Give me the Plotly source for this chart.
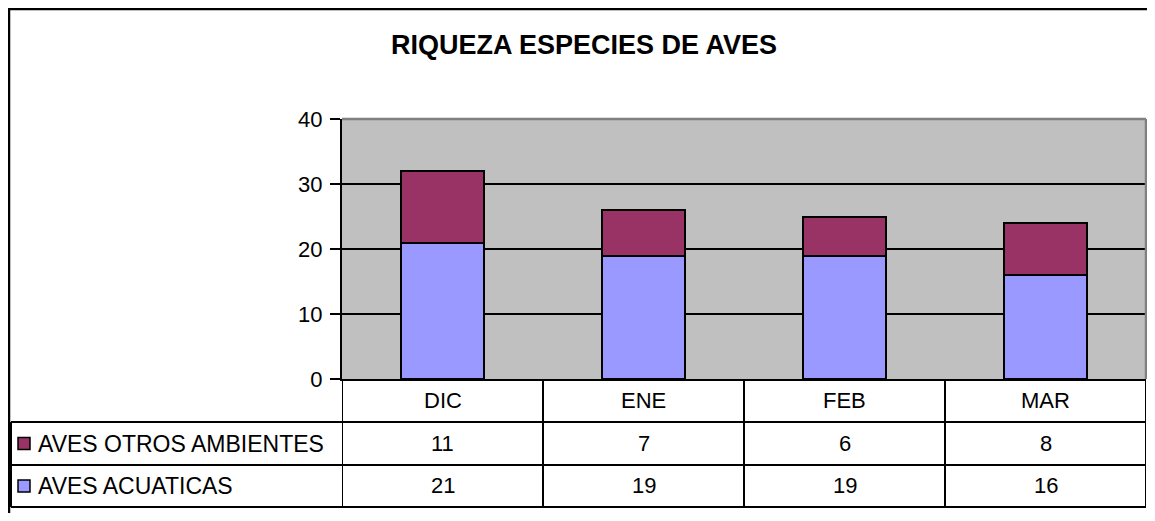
import plotly.graph_objects as go

# ---- data ----
categories = ["DIC", "ENE", "FEB", "MAR"]
aves_acuaticas = [21, 19, 19, 16]
aves_otros = [11, 7, 6, 8]
name_acuaticas = "AVES ACUATICAS"
name_otros = "AVES OTROS AMBIENTES"
y_ticks = [0, 10, 20, 30, 40]
chart_title = "RIQUEZA ESPECIES DE AVES"

# ---- style / layout constants ----
FONT = "Liberation Sans, Arial, sans-serif"
OFF = 8  # page body margin of the html page
W_FIG, H_FIG = 1155 - 2 * OFF, 521 - 2 * OFF
# plot area in screen pixels
PL, PR, PT, PB = 342, 1146, 119, 379
L = PL - OFF
R = W_FIG - (PR - OFF)
T = PT - OFF
B = H_FIG - (PB - OFF)
PW = W_FIG - L - R
PH = H_FIG - T - B
C_OTROS = "#993366"
C_ACU = "#9999FF"
FS = 22


def px(sx):
    """screen x -> paper x"""
    return (sx - PL) / PW


def py(sy):
    """screen y -> paper y"""
    return (PB - sy) / PH


fig = go.Figure()
fig.add_bar(x=categories, y=aves_acuaticas, name=name_acuaticas, width=0.41,
            marker=dict(color=C_ACU, line=dict(color="black", width=2)))
fig.add_bar(x=categories, y=aves_otros, name=name_otros, width=0.41,
            marker=dict(color=C_OTROS, line=dict(color="black", width=2)))

shapes = []
annotations = []

# outer chart border: only left and top edges are visible
shapes.append(dict(type="line", xref="paper", yref="paper",
                   x0=px(9), x1=px(9), y0=py(8), y1=py(530),
                   line=dict(color="black", width=2.5), layer="above"))
shapes.append(dict(type="line", xref="paper", yref="paper",
                   x0=px(8), x1=px(1160), y0=py(9), y1=py(9),
                   line=dict(color="black", width=2.5), layer="above"))
# plot area top and right (gray)
shapes.append(dict(type="line", xref="paper", yref="paper", x0=0, x1=1, y0=1, y1=1,
                   line=dict(color="#808080", width=2.5), layer="above"))
shapes.append(dict(type="line", xref="paper", yref="paper", x0=1, x1=1, y0=0, y1=1,
                   line=dict(color="#808080", width=2.5), layer="above"))

# data table
n = len(categories)
row_header = (379, 422)
row_otros = (422, 465)
row_acu = (465, 507)
tbl_left = 11
for i in range(n + 1):
    shapes.append(dict(type="line", xref="x", yref="paper", x0=i - 0.5, x1=i - 0.5,
                       y0=py(row_header[0]), y1=py(row_acu[1]),
                       line=dict(color="black", width=2)))
shapes.append(dict(type="line", xref="paper", yref="paper", x0=px(tbl_left), x1=px(tbl_left),
                   y0=py(row_otros[0]), y1=py(row_acu[1]), line=dict(color="black", width=2)))
for yy in (row_otros[0], row_acu[0], row_acu[1]):
    shapes.append(dict(type="line", xref="paper", yref="paper", x0=px(tbl_left), x1=1,
                       y0=py(yy), y1=py(yy), line=dict(color="black", width=2)))

for i, c in enumerate(categories):
    annotations.append(dict(x=i, y=py(sum(row_header) / 2), xref="x", yref="paper",
                            xanchor="center", yanchor="middle",
                            text=c, showarrow=False, font=dict(size=FS, color="black", family=FONT)))

for vals, row, name, col in ((aves_otros, row_otros, name_otros, C_OTROS),
                             (aves_acuaticas, row_acu, name_acuaticas, C_ACU)):
    yc = sum(row) / 2
    for i, v in enumerate(vals):
        annotations.append(dict(x=i, y=py(yc), xref="x", yref="paper", text=str(v),
                                xanchor="center", yanchor="middle",
                                showarrow=False, font=dict(size=FS, color="black", family=FONT)))
    annotations.append(dict(x=px(36), y=py(yc), xref="paper", yref="paper", text=name,
                            xanchor="left", yanchor="middle", showarrow=False,
                            font=dict(size=FS + 1, color="black", family=FONT)))
    shapes.append(dict(type="rect", xref="paper", yref="paper",
                       x0=px(18), x1=px(30), y0=py(yc - 6), y1=py(yc + 6),
                       fillcolor=col, line=dict(color="black", width=1.5)))

annotations.append(dict(x=px(584), y=py(45), xref="paper", yref="paper",
                        xanchor="center", yanchor="middle",
                        text="<b>" + chart_title + "</b>",
                        showarrow=False, font=dict(size=27, color="black", family=FONT)))

fig.update_layout(
    width=W_FIG, height=H_FIG,
    margin=dict(l=L, r=R, t=T, b=B, pad=0),
    barmode="stack",
    showlegend=False,
    plot_bgcolor="#C0C0C0",
    paper_bgcolor="white",
    font=dict(family=FONT, color="black"),
    shapes=shapes,
    annotations=annotations,
    xaxis=dict(type="category", range=[-0.5, n - 0.5], showticklabels=False, showgrid=False,
               showline=True, linecolor="black", linewidth=2, ticks="", zeroline=False,
               fixedrange=True),
    yaxis=dict(range=[0, 40], tickvals=y_ticks, ticktext=[str(t) for t in y_ticks],
               showgrid=True, gridcolor="black", gridwidth=2,
               ticks="outside", ticklen=10, tickwidth=2, tickcolor="black",
               ticklabelstandoff=3,
               showline=True, linecolor="black", linewidth=2, zeroline=False,
               tickfont=dict(size=FS, color="black", family=FONT), fixedrange=True),
)

fig.write_html("out.html")
